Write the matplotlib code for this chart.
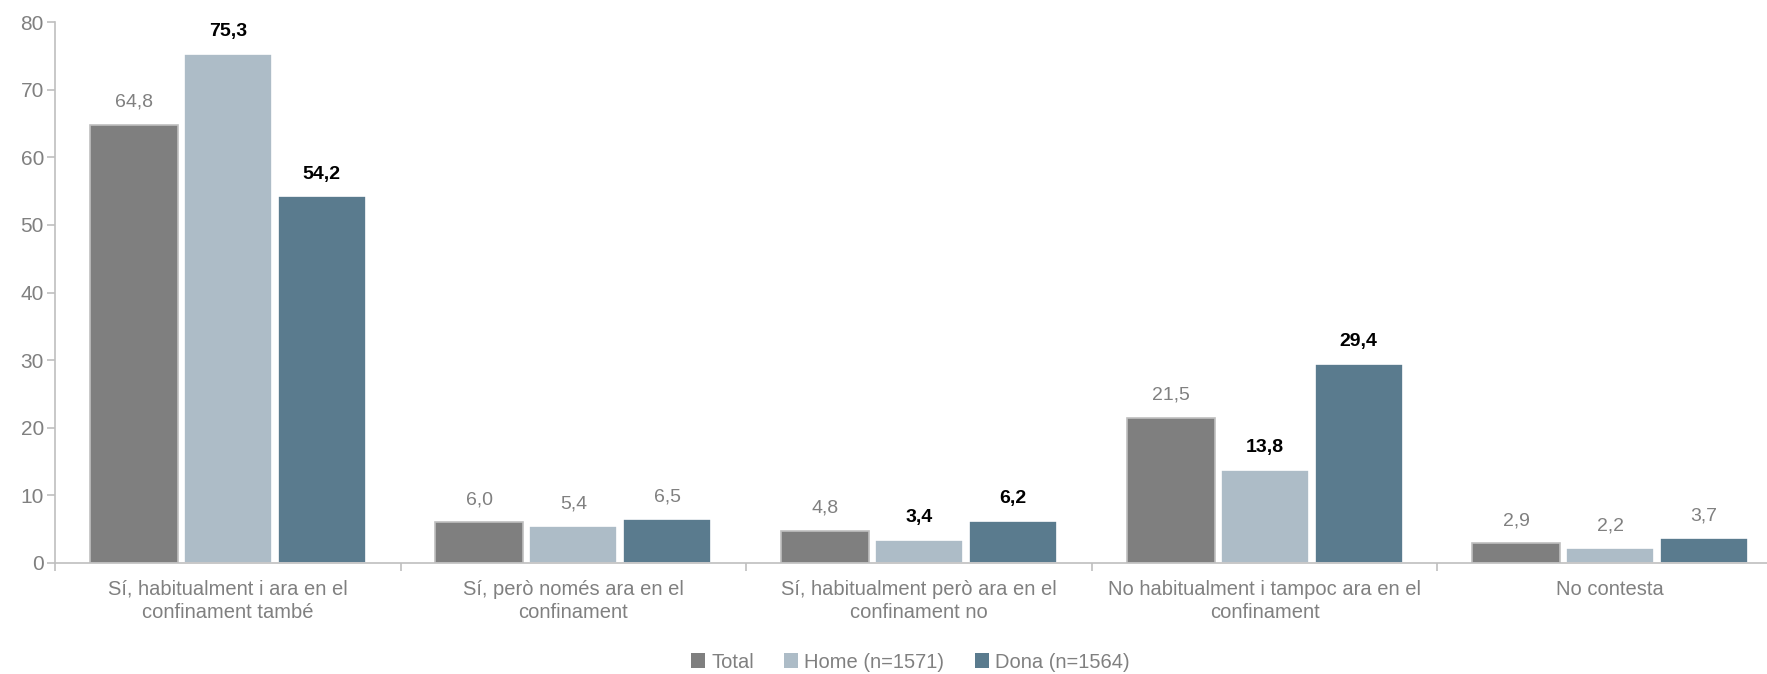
import numpy as np
import matplotlib.pyplot as plt
from matplotlib.patches import Patch

categories = ['Sí, habitualment i ara en el\nconfinament també',
              'Sí, però només ara en el\nconfinament',
              'Sí, habitualment però ara en el\nconfinament no',
              'No habitualment i tampoc ara en el\nconfinament',
              'No contesta']
series_names = ['Total', 'Home (n=1571)', 'Dona (n=1564)']
total = [64.8, 6.0, 4.8, 21.5, 2.9]
home = [75.3, 5.4, 3.4, 13.8, 2.2]
dona = [54.2, 6.5, 6.2, 29.4, 3.7]
# significant differences are shown in bold black
home_bold = [True, False, True, True, False]
dona_bold = [True, False, True, True, False]
total_bold = [False] * 5

colors = ['#7f7f7f', '#adbcc7', '#5a7b8e']
edges = ['#bfbfbf', 'white', 'white']

plt.rcParams['font.family'] = ['Liberation Sans', 'DejaVu Sans']

fig = plt.figure(figsize=(17.67, 6.74), dpi=100)
ax = fig.add_axes([55 / 1767, 1 - 563 / 674, 1728 / 1767, 541 / 674])

x = np.arange(len(categories))
width = 0.255
step = 0.272
for i, (vals, bold) in enumerate(zip([total, home, dona],
                                     [total_bold, home_bold, dona_bold])):
    pos = x + (i - 1) * step
    ax.bar(pos, vals, width, color=colors[i], edgecolor=edges[i],
           linewidth=1.2, label=series_names[i], zorder=2)
    for px, v, b in zip(pos, vals, bold):
        ax.annotate(f'{v:.1f}'.replace('.', ','), (px, v), xytext=(0, 10),
                    textcoords='offset points', ha='center', va='bottom',
                    fontsize=14, color='black' if b else '#808080',
                    fontweight='bold' if b else 'normal')

ax.set_xlim(-0.5, len(categories) - 0.5)
ax.set_ylim(0, 80)
ax.set_yticks(range(0, 81, 10))
ax.tick_params(axis='y', colors='#bfbfbf', labelcolor='#808080',
               labelsize=15, length=6, width=1.2, pad=2)

ax.set_xticks(np.arange(len(categories) + 1) - 0.5)
ax.set_xticklabels([])
ax.set_xticks(x, minor=True)
ax.set_xticklabels(categories, minor=True, fontsize=14.5, color='#808080',
                   linespacing=1.3)
ax.tick_params(axis='x', which='major', colors='#bfbfbf', length=6, width=1.2)
ax.tick_params(axis='x', which='minor', length=0, pad=12)

for s in ['top', 'right']:
    ax.spines[s].set_visible(False)
for s in ['left', 'bottom']:
    ax.spines[s].set_color('#bfbfbf')
    ax.spines[s].set_linewidth(1.2)

handles = [Patch(facecolor=c, edgecolor='none') for c in colors]
leg = ax.legend(handles, series_names, loc='center',
                bbox_to_anchor=(0.495, -0.183), ncol=3, frameon=False,
                fontsize=14.5, handlelength=0.7, handleheight=0.7,
                handletextpad=0.3, columnspacing=1.5)
for t in leg.get_texts():
    t.set_color('#808080')

fig.savefig('out.png', dpi=100)
